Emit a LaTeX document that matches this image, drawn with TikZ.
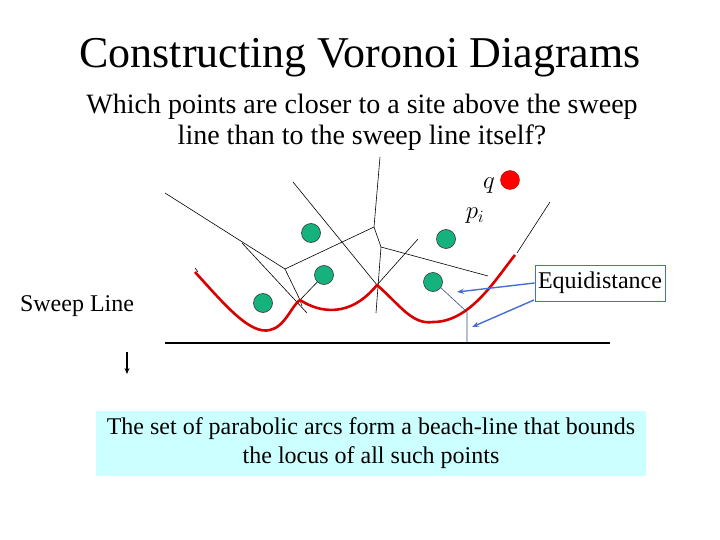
\documentclass[tikz,border=0pt]{standalone}
\usepackage{fontspec}
\setmainfont{Liberation Serif}
\usetikzlibrary{arrows.meta}
\definecolor{sitegreen}{RGB}{22,178,125}
\definecolor{boxcyan}{RGB}{204,255,255}
\definecolor{arrblue}{RGB}{70,110,210}
\begin{document}
\begin{tikzpicture}[x=1pt,y=-1pt,
  vl/.style={black,line width=0.6pt},
  site/.style={circle,draw=black!80,fill=sitegreen,minimum size=19pt,inner sep=0pt,line width=0.6pt},
  beach/.style={red!85!black,line width=2.6pt,line join=round},
  blarrow/.style={-{Stealth[length=7pt]},arrblue,line width=1.4pt}]
\useasboundingbox (0,0) rectangle (720,540);
\node (title) at (360,58) {\fontsize{44}{50}\selectfont Constructing Voronoi Diagrams};
\node[align=center,font=\fontsize{28}{31}\selectfont] (sub) at (362,122) {Which points are closer to a site above the sweep\\line than to the sweep line itself?};
% voronoi edges
\coordinate (A) at (165,193); \coordinate (V1) at (285,269);
\coordinate (V2) at (374,227); \coordinate (V3) at (381,247);
\coordinate (B1) at (300,300); \coordinate (X) at (377,285);
\draw[vl] (A) -- (V1) -- (V2);
\draw[vl] (242,243) -- (307,313);
\draw[vl] (V1) -- (B1) -- (302,306);
\draw[vl] (293,182) -- (X);
\draw[vl] (380,157) -- (V2) -- (V3) -- (376,313);
\draw[vl] (V3) -- (488,276);
\draw[vl] (418,239) -- (X);
\draw[vl] (324,275) -- (B1);
\draw[vl] (550,202) -- (517,253);
\draw[vl] (195,268) -- (198,272);
% beach line
\draw[beach] (195,272) .. controls (225,305) and (250,335) .. (270,330)
  .. controls (285,327) and (292,305) .. (B1)
  .. controls (320,313) and (350,318) .. (X)
  .. controls (400,305) and (412,325) .. (433,322)
  .. controls (470,322) and (495,280) .. (515,255);
% sites
\node[site] (s1) at (263,303) {};
\node[site] (s2) at (324,275) {};
\node[site] (s3) at (311,233) {};
\node[site] (s4) at (446,239) {};
\node[site] (s5) at (433,282) {};
\node[circle,fill=red,draw=red!70!black,minimum width=17pt,minimum height=19pt,inner sep=0pt] (q) at (510,180) {};
\node (ql) at (489,186) {\fontsize{26}{28}\selectfont $q$};
\node (pl) at (475,216) {\fontsize{26}{28}\selectfont $p_i$};
% thin guide
\draw[arrblue!70!black,line width=0.6pt] (440,287) -- (467,312) -- (467,343);
% sweep line
\draw[line width=2.5pt] (165,343) -- (610,343);
% equidistance
\node[draw=arrblue,line width=0.8pt,fill=white,minimum width=130pt,minimum height=36pt,inner sep=0pt] (eq) at (600,283) {\fontsize{24}{26}\selectfont Equidistance};
\draw[blarrow] (eq.west) -- (457,292);
\draw[blarrow] (534,300) -- (472,327);
\node (sw) at (77,306) {\fontsize{24}{26}\selectfont Sweep Line};
\coordinate (a1) at (127,352); \coordinate (a2) at (127,374);
\draw[-{Stealth[length=6pt,width=5pt]},line width=1.2pt] (a1) -- (a2);
\node[fill=boxcyan,minimum width=550pt,minimum height=65pt,align=center,inner sep=0pt,font=\fontsize{24}{29}\selectfont] (box) at (371,443) {The set of parabolic arcs form a beach-line that bounds\\the locus of all such points};
\end{tikzpicture}
\end{document}
